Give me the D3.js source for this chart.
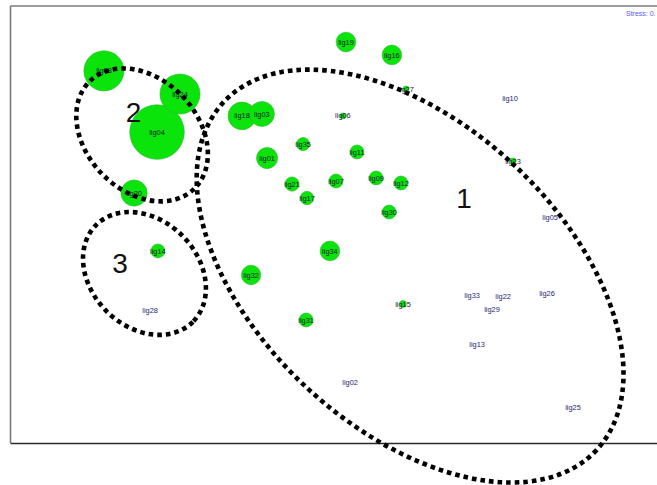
<!DOCTYPE html>
<html>
<head>
<meta charset="utf-8">
<script src="https://cdn.jsdelivr.net/npm/d3@7"></script>
<style>
  html, body { margin: 0; padding: 0; background: #fff; }
  svg { display: block; }
</style>
</head>
<body>
<svg id="chart" width="657" height="485"></svg>
<script>
// MDS ordination of ligands: dimension scores and abundance (bubble size)
const ligands = ["lig01","lig02","lig03","lig04","lig05","lig06","lig07","lig08","lig09","lig10",
                 "lig11","lig12","lig13","lig14","lig15","lig16","lig17","lig18","lig19","lig20",
                 "lig21","lig22","lig23","lig24","lig25","lig26","lig27","lig28","lig29","lig30",
                 "lig31","lig32","lig33","lig34","lig35"];
const dim1 = [-0.318, 0.065,-0.342,-0.826, 0.988, 0.032, 0.000,-1.071, 0.185, 0.803,
               0.097, 0.300, 0.651,-0.822, 0.309, 0.258,-0.134,-0.434, 0.046,-0.932,
              -0.203, 0.771, 0.817,-0.720, 1.094, 0.974, 0.323,-0.858, 0.720, 0.245,
              -0.138,-0.392, 0.628,-0.028,-0.152];
const dim2 = [ 0.304,-0.721, 0.506, 0.423, 0.034, 0.497, 0.199, 0.703, 0.213, 0.579,
               0.332, 0.190,-0.551,-0.121,-0.364, 0.776, 0.121, 0.497, 0.835, 0.144,
               0.185,-0.327, 0.291, 0.597,-0.835,-0.314, 0.620,-0.391,-0.387, 0.057,
              -0.437,-0.231,-0.323,-0.121, 0.368];
const abundance = [15, 0, 21, 100, 0, 1.2, 6.5, 54, 6.5, 0,
                   6.5, 6.5, 0, 6.5, 1.6, 13, 6, 26, 13, 23,
                   6.8, 0, 1.2, 54, 0, 0, 1.2, 0, 0, 6.5,
                   6.5, 12.6, 0, 13, 5.8];

// Hand-drawn group outlines: centre (dim units), semi-axes (dim1 units), tilt (deg)
const groupNames = ["1", "2", "3"];
const groupCx    = [ 0.342, -0.895, -0.884];
const groupCy    = [-0.236,  0.410, -0.224];
const groupA     = [ 1.177,  0.346,  0.316];
const groupB     = [ 0.702,  0.258,  0.247];
const groupTilt  = [ 43, 46, 45];
const groupLabelX = [ 0.591, -0.935, -0.997];
const groupLabelY = [ 0.121,  0.515, -0.176];

const stressText = "Stress: 0.";

const svg = d3.select("#chart");
const W = 657, H = 485;

const x = d3.scaleLinear().domain([-1.5, 1.5]).range([11, 661]);
const y = d3.scaleLinear().domain([-1, 1]).range([443, 6]);
const r = d3.scaleSqrt().domain([0, 100]).range([0, 27.3]);

// Plot frame
svg.append("line").attr("x1", x(-1.5) - 0.5).attr("x2", W + 10)
  .attr("y1", y(1)).attr("y2", y(1))
  .attr("stroke", "#7a7a7a").attr("stroke-width", 1.6);
svg.append("line").attr("x1", x(-1.5) - 0.5).attr("x2", x(-1.5) - 0.5)
  .attr("y1", y(1)).attr("y2", y(-1))
  .attr("stroke", "#7a7a7a").attr("stroke-width", 1.6);
svg.append("line").attr("x1", x(-1.5) - 0.5).attr("x2", W + 10)
  .attr("y1", y(-1) + 0.5).attr("y2", y(-1) + 0.5)
  .attr("stroke", "#2a2a2a").attr("stroke-width", 1.4);

svg.append("text")
  .attr("x", 626).attr("y", 15.5)
  .attr("font-family", "Liberation Sans, Arial, sans-serif")
  .attr("font-size", 7)
  .attr("fill", "#5a5cf0")
  .text(stressText);

const pts = ligands.map((name, i) => ({ name, d1: dim1[i], d2: dim2[i], v: abundance[i] }));

// Bubbles, largest first so small ones stay visible
svg.append("g").selectAll("circle")
  .data(pts.filter(d => d.v > 0).sort((a, b) => b.v - a.v))
  .join("circle")
  .attr("cx", d => x(d.d1))
  .attr("cy", d => y(d.d2))
  .attr("r", d => r(d.v))
  .attr("fill", "#0ae40a")
  .attr("stroke", "#2fb52f")
  .attr("stroke-width", 0.6);

svg.append("g").selectAll("text")
  .data(pts)
  .join("text")
  .attr("x", d => x(d.d1))
  .attr("y", d => y(d.d2))
  .attr("dy", "0.35em")
  .attr("text-anchor", "middle")
  .attr("font-family", "Liberation Sans, Arial, sans-serif")
  .attr("font-size", 7.4)
  .attr("fill", d => d.v > 0 ? "#15172e" : "#1d2470")
  .text(d => d.name);

// Dotted group outlines
const kx = x(1) - x(0);
const groups = groupNames.map((g, i) => ({
  name: g, cx: x(groupCx[i]), cy: y(groupCy[i]),
  a: groupA[i] * kx, b: groupB[i] * kx, tilt: groupTilt[i],
  lx: x(groupLabelX[i]), ly: y(groupLabelY[i])
}));

svg.append("g").selectAll("ellipse")
  .data(groups)
  .join("ellipse")
  .attr("transform", d => `translate(${d.cx},${d.cy}) rotate(${d.tilt})`)
  .attr("rx", d => d.a)
  .attr("ry", d => d.b)
  .attr("fill", "none")
  .attr("stroke", "#000")
  .attr("stroke-width", 4.6)
  .attr("stroke-dasharray", "4.6 4");

svg.append("g").selectAll("text")
  .data(groups)
  .join("text")
  .attr("x", d => d.lx)
  .attr("y", d => d.ly)
  .attr("dy", "0.36em")
  .attr("text-anchor", "middle")
  .attr("font-family", "Liberation Sans, Arial, sans-serif")
  .attr("font-size", 28)
  .attr("fill", "#111")
  .text(d => d.name);
</script>
</body>
</html>
